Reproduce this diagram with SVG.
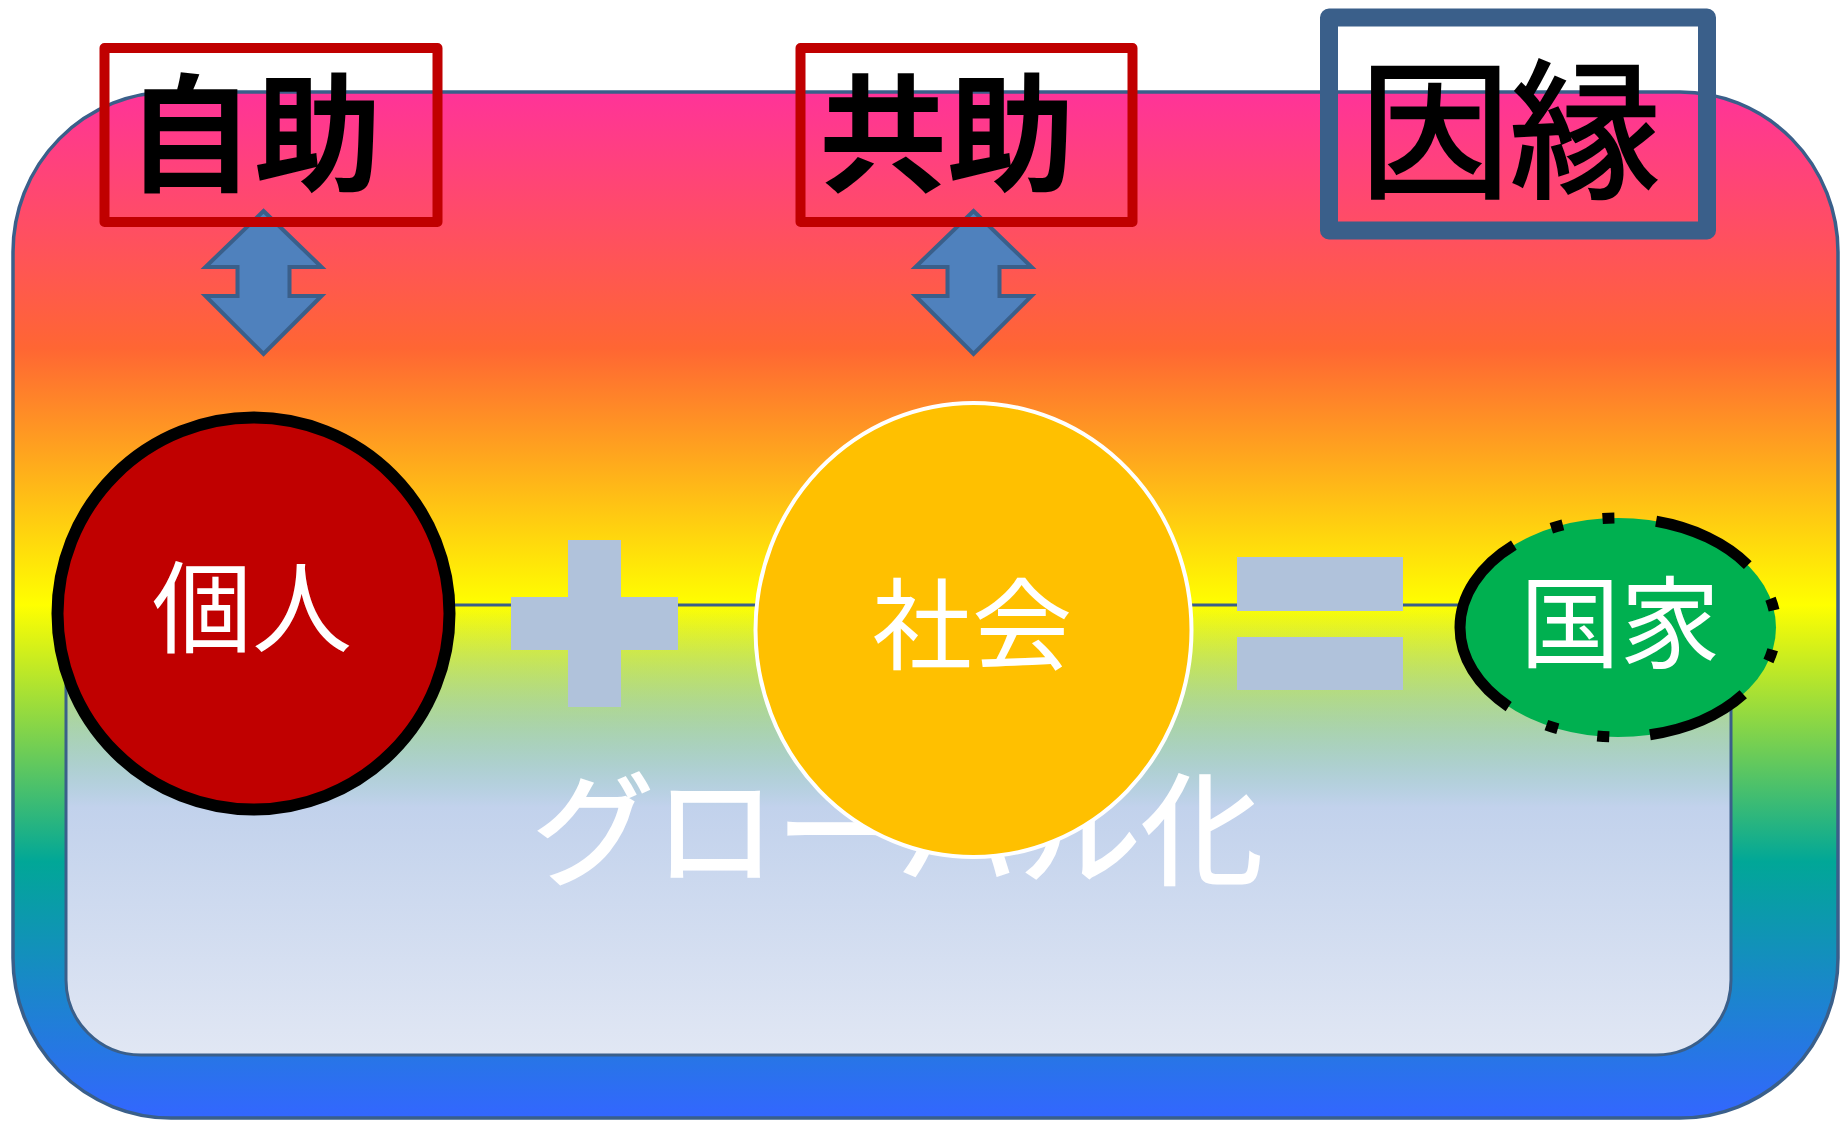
<svg xmlns="http://www.w3.org/2000/svg" width="1841" height="1121" viewBox="0 0 1841 1121">
  <defs>
    <linearGradient id="rainbow" x1="0" y1="0" x2="0" y2="1">
      <stop offset="0" stop-color="#FF3399"/>
      <stop offset="0.25" stop-color="#FF6633"/>
      <stop offset="0.5" stop-color="#FFFF00"/>
      <stop offset="0.75" stop-color="#01A797"/>
      <stop offset="1" stop-color="#3366FF"/>
    </linearGradient>
    <linearGradient id="innerFill" x1="0" y1="0" x2="0" y2="1">
      <stop offset="0" stop-color="#C2D2EC" stop-opacity="0"/>
      <stop offset="0.45" stop-color="#C2D2EC" stop-opacity="1"/>
      <stop offset="1" stop-color="#E1E7F4" stop-opacity="1"/>
    </linearGradient>
    <style>
      .frame { stroke: #3A5F8A; }
      .label { font-family: "Noto Sans CJK JP", "Noto Sans CJK SC", sans-serif; text-anchor: middle; }
      .black { fill: #000000; font-weight: 700; }
      .medium { fill: #000000; font-weight: 400; stroke: #000000; stroke-width: 2.5; }
      .white { fill: #FFFFFF; font-weight: 400; }
      .whiteheavy { fill: #FFFFFF; font-weight: 400; stroke: #FFFFFF; stroke-width: 2; }
      .redbox { fill: none; stroke: #C00000; stroke-width: 10; stroke-linejoin: round; }
      .bluebox { fill: none; stroke: #3A5F8A; stroke-width: 18; stroke-linejoin: round; }
      .arrow { fill: #4F81BD; stroke: #3A5F8A; stroke-width: 4; }
      .op { fill: #B0C2DB; }
    </style>
  </defs>
  <rect width="1841" height="1121" fill="#FFFFFF"/>

  <g id="outer-frame">
    <rect x="13" y="92" width="1825" height="1026" rx="158" ry="160" fill="url(#rainbow)" class="frame" stroke-width="3.5"/>
  </g>
  <g id="inner-frame">
    <rect x="66" y="605" width="1665" height="450" rx="75" ry="75" fill="url(#innerFill)" class="frame" stroke-width="3"/>
  </g>

  <g id="globalization">
    <text class="label whiteheavy" x="897.5" y="875" font-size="122">グローバル化</text>
  </g>

  <g id="plus">
    <rect class="op" x="568" y="540" width="53" height="167"/>
    <rect class="op" x="511" y="597" width="167" height="53"/>
  </g>
  <g id="equals">
    <rect class="op" x="1237" y="557" width="166" height="54"/>
    <rect class="op" x="1237" y="637" width="166" height="53"/>
  </g>

  <g id="kojin">
    <circle cx="253.5" cy="613.5" r="196" fill="#C00000" stroke="#000000" stroke-width="12"/>
    <text class="label white" x="252" y="645" font-size="100">個人</text>
  </g>
  <g id="shakai">
    <ellipse cx="973.5" cy="630" rx="218" ry="227" fill="#FFC000" stroke="#FFFFFF" stroke-width="4"/>
    <text class="label white" x="972" y="662" font-size="100">社会</text>
  </g>
  <g id="kokka">
    <path d="M1460,627.5 A158,109.5 0 0 1 1776,627.5 A158,109.5 0 0 1 1460,627.5 Z" fill="#00B050" stroke="#000000" stroke-width="11" stroke-dasharray="103 41 12 40 12 42"/>
    <text class="label white" x="1620" y="660" font-size="100">国家</text>
  </g>

  <g id="connectors">
    <path class="arrow" d="M263.5,211 L321.5,267 L289.5,267 L289.5,296 L321.5,296 L263.5,354 L205.5,296 L237.5,296 L237.5,267 L205.5,267 Z"/>
    <path class="arrow" d="M973.5,211 L1031.5,267 L999.5,267 L999.5,296 L1031.5,296 L973.5,354 L915.5,296 L947.5,296 L947.5,267 L915.5,267 Z"/>
  </g>

  <g id="jijo">
    <rect class="redbox" x="104.5" y="48" width="333" height="174"/>
    <text class="label black" x="254" y="182" font-size="128">自助</text>
  </g>
  <g id="kyojo">
    <rect class="redbox" x="800.5" y="48" width="332" height="174"/>
    <text class="label black" x="947" y="182" font-size="128">共助</text>
  </g>
  <g id="innen">
    <rect class="bluebox" x="1329" y="17.5" width="378" height="213"/>
    <text class="label medium" x="1510" y="186" font-size="150">因縁</text>
  </g>
</svg>
